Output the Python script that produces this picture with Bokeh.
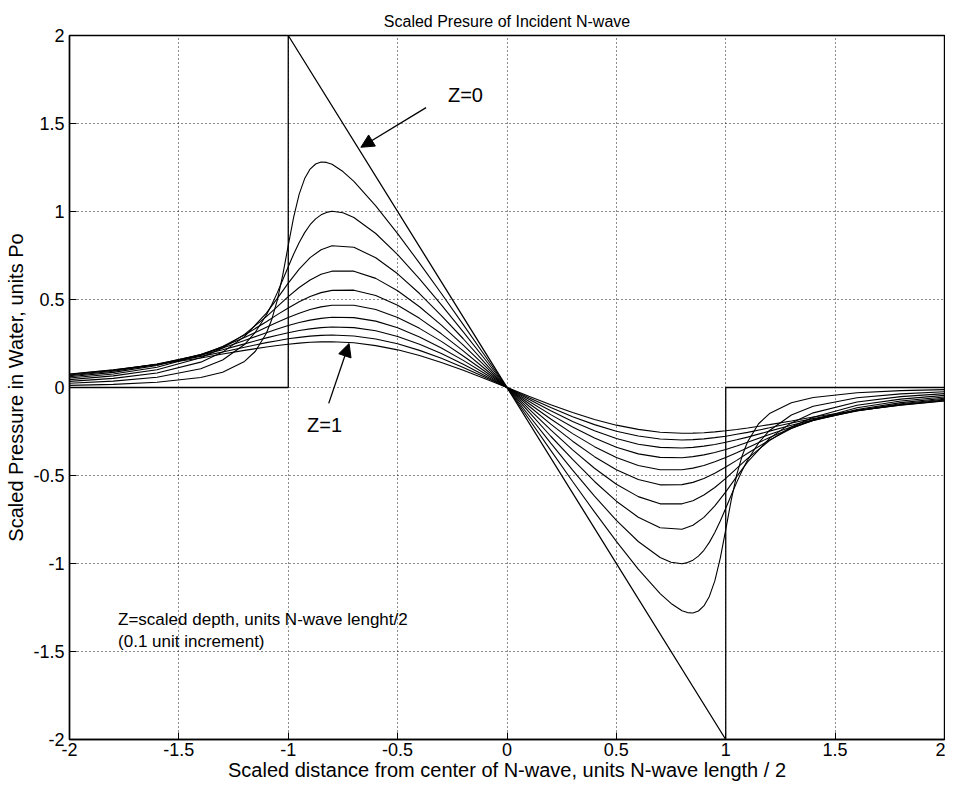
from bokeh.plotting import figure
from bokeh.models import (Range1d, FixedTicker, Label, Arrow, NormalHead,
                          CustomJSTickFormatter)
from bokeh.embed import file_html
from bokeh.resources import INLINE

# ---------------- data ----------------
# sample positions for the deeper curves (Z = 0.3 ... 1.0)
x_vals = [-2.0, -1.8, -1.6, -1.4, -1.3, -1.2, -1.1, -1.05, -1.0, -0.95, -0.9,
          -0.85, -0.8, -0.7, -0.6, -0.5, -0.4, -0.3, -0.2, -0.1, 0.0,
          0.1, 0.2, 0.3, 0.4, 0.5, 0.6, 0.7, 0.8, 0.85, 0.9, 0.95, 1.0,
          1.05, 1.1, 1.2, 1.3, 1.4, 1.6, 1.8, 2.0]

# denser sample positions for the two shallow, sharper curves (Z = 0.1, 0.2)
x_fine = [-2.0, -1.8, -1.6, -1.4, -1.3, -1.2, -1.15, -1.1, -1.075, -1.05, -1.025,
          -1.0, -0.975, -0.95, -0.925, -0.9, -0.875, -0.85, -0.825, -0.8, -0.75,
          -0.7, -0.6, -0.5, -0.4, -0.3, -0.2, -0.1, 0.0,
          0.1, 0.2, 0.3, 0.4, 0.5, 0.6, 0.7, 0.75, 0.8, 0.825, 0.85, 0.875,
          0.9, 0.925, 0.95, 0.975, 1.0, 1.025, 1.05, 1.075, 1.1, 1.15,
          1.2, 1.3, 1.4, 1.6, 1.8, 2.0]

# incident N-wave at the surface (Z=0)
nwave_x = [-2.0, -1.0, -1.0, 1.0, 1.0, 2.0]
nwave_y = [0.0, 0.0, 2.0, -2.0, 0.0, 0.0]

# pressure at scaled depths Z = 0.1 ... 1.0
p_z01 = [0.012, 0.018, 0.030, 0.057, 0.087, 0.148, 0.206, 0.308, 0.388, 0.497, 0.640,
         0.807, 0.969, 1.099, 1.187, 1.241, 1.270, 1.281, 1.279, 1.268, 1.227,
         1.171, 1.032, 0.874, 0.707, 0.534, 0.357, 0.179, 0.0,
         -0.179, -0.357, -0.534, -0.707, -0.874, -1.032, -1.171, -1.227, -1.268, -1.279, -1.281, -1.270,
         -1.241, -1.187, -1.099, -0.969, -0.807, -0.640, -0.497, -0.388, -0.308, -0.206,
         -0.148, -0.087, -0.057, -0.030, -0.018, -0.012]
p_z02 = [0.024, 0.036, 0.058, 0.107, 0.156, 0.244, 0.315, 0.412, 0.472, 0.539, 0.612,
         0.686, 0.759, 0.824, 0.880, 0.925, 0.958, 0.981, 0.995, 1.001, 0.993,
         0.966, 0.875, 0.755, 0.617, 0.469, 0.316, 0.159, 0.0,
         -0.159, -0.316, -0.469, -0.617, -0.755, -0.875, -0.966, -0.993, -1.001, -0.995, -0.981, -0.958,
         -0.925, -0.880, -0.824, -0.759, -0.686, -0.612, -0.539, -0.472, -0.412, -0.315,
         -0.244, -0.156, -0.107, -0.058, -0.036, -0.024]
p_z03 = [0.035, 0.052, 0.082, 0.144, 0.201, 0.289, 0.423, 0.506, 0.593, 0.673, 0.738,
         0.783, 0.805, 0.797, 0.737, 0.646, 0.534, 0.409, 0.277, 0.139, 0.0,
         -0.139, -0.277, -0.409, -0.534, -0.646, -0.737, -0.797, -0.805, -0.783, -0.738, -0.673, -0.593,
         -0.506, -0.423, -0.289, -0.201, -0.144, -0.082, -0.052, -0.035]
p_z04 = [0.045, 0.066, 0.101, 0.169, 0.224, 0.302, 0.403, 0.460, 0.516, 0.568, 0.611,
         0.643, 0.661, 0.661, 0.620, 0.550, 0.459, 0.354, 0.241, 0.122, 0.0,
         -0.122, -0.241, -0.354, -0.459, -0.550, -0.620, -0.661, -0.661, -0.643, -0.611, -0.568, -0.516,
         -0.460, -0.403, -0.302, -0.224, -0.169, -0.101, -0.066, -0.045]
p_z05 = [0.054, 0.077, 0.115, 0.183, 0.233, 0.298, 0.374, 0.414, 0.452, 0.487, 0.517,
         0.539, 0.552, 0.553, 0.523, 0.467, 0.393, 0.305, 0.208, 0.105, 0.0,
         -0.105, -0.208, -0.305, -0.393, -0.467, -0.523, -0.553, -0.552, -0.539, -0.517, -0.487, -0.452,
         -0.414, -0.374, -0.298, -0.233, -0.183, -0.115, -0.077, -0.054]
p_z06 = [0.061, 0.086, 0.125, 0.188, 0.232, 0.284, 0.342, 0.371, 0.398, 0.422, 0.443,
         0.458, 0.467, 0.467, 0.443, 0.398, 0.336, 0.262, 0.179, 0.091, 0.0,
         -0.091, -0.179, -0.262, -0.336, -0.398, -0.443, -0.467, -0.467, -0.458, -0.443, -0.422, -0.398,
         -0.371, -0.342, -0.284, -0.232, -0.188, -0.125, -0.086, -0.061]
p_z07 = [0.067, 0.092, 0.130, 0.188, 0.225, 0.267, 0.311, 0.332, 0.352, 0.369, 0.383,
         0.393, 0.399, 0.397, 0.377, 0.339, 0.287, 0.225, 0.154, 0.078, 0.0,
         -0.078, -0.154, -0.225, -0.287, -0.339, -0.377, -0.397, -0.399, -0.393, -0.383, -0.369, -0.352,
         -0.332, -0.311, -0.267, -0.225, -0.188, -0.130, -0.092, -0.067]
p_z08 = [0.071, 0.097, 0.133, 0.184, 0.215, 0.248, 0.282, 0.297, 0.311, 0.324, 0.333,
         0.340, 0.344, 0.340, 0.322, 0.290, 0.246, 0.193, 0.132, 0.067, 0.0,
         -0.067, -0.132, -0.193, -0.246, -0.290, -0.322, -0.340, -0.344, -0.340, -0.333, -0.324, -0.311,
         -0.297, -0.282, -0.248, -0.215, -0.184, -0.133, -0.097, -0.071]
p_z09 = [0.075, 0.099, 0.132, 0.177, 0.202, 0.229, 0.255, 0.266, 0.277, 0.285, 0.292,
         0.296, 0.298, 0.293, 0.276, 0.249, 0.211, 0.166, 0.114, 0.058, 0.0,
         -0.058, -0.114, -0.166, -0.211, -0.249, -0.276, -0.293, -0.298, -0.296, -0.292, -0.285, -0.277,
         -0.266, -0.255, -0.229, -0.202, -0.177, -0.132, -0.099, -0.075]
p_z10 = [0.077, 0.100, 0.131, 0.168, 0.190, 0.211, 0.230, 0.239, 0.246, 0.252, 0.257,
         0.259, 0.260, 0.254, 0.238, 0.214, 0.182, 0.142, 0.098, 0.050, 0.0,
         -0.050, -0.098, -0.142, -0.182, -0.214, -0.238, -0.254, -0.260, -0.259, -0.257, -0.252, -0.246,
         -0.239, -0.230, -0.211, -0.190, -0.168, -0.131, -0.100, -0.077]

shallow_curves = [p_z01, p_z02]
deep_curves = [p_z03, p_z04, p_z05, p_z06, p_z07, p_z08, p_z09, p_z10]

x_ticks = [-2, -1.5, -1, -0.5, 0, 0.5, 1, 1.5, 2]
y_ticks = [-2, -1.5, -1, -0.5, 0, 0.5, 1, 1.5, 2]

title_text = "Scaled Presure of Incident N-wave"
x_label = "Scaled distance from center of N-wave, units N-wave length / 2"
y_label = "Scaled Pressure in Water, units Po"
note_1 = "Z=scaled depth, units N-wave lenght/2"
note_2 = "(0.1 unit increment)"

# ---------------- figure ----------------
FONT = "Liberation Sans"

p = figure(width=945, height=783, output_backend="svg", toolbar_location=None,
           x_range=Range1d(-2, 2), y_range=Range1d(-2, 2),
           min_border_left=69, min_border_right=1, min_border_top=35,
           min_border_bottom=40)
p.background_fill_color = "white"
p.border_fill_color = "white"
p.outline_line_color = "black"
p.outline_line_width = 1.4
p.outline_line_alpha = 1.0

p.title.text = title_text
p.title.align = "center"
p.title.text_font = FONT
p.title.text_font_size = "16px"
p.title.text_font_style = "normal"
p.title.text_color = "black"
p.title.standoff = 12

fmt = CustomJSTickFormatter(code="return tick.toString();")

for ax, ticks in ((p.xaxis[0], x_ticks), (p.yaxis[0], y_ticks)):
    ax.ticker = FixedTicker(ticks=ticks)
    ax.formatter = fmt
    ax.minor_tick_line_color = None
    ax.major_tick_in = 7
    ax.major_tick_out = 0
    ax.major_tick_line_color = "black"
    ax.axis_line_color = "black"
    ax.axis_line_width = 1.4
    ax.major_label_text_font = FONT
    ax.major_label_text_font_size = "18px"
    ax.major_label_text_color = "black"
    ax.axis_label_text_font = FONT
    ax.axis_label_text_font_style = "normal"
    ax.axis_label_text_color = "black"

p.xaxis.axis_label = x_label
p.yaxis.axis_label = y_label
p.xaxis.axis_label_text_font_size = "20px"
p.yaxis.axis_label_text_font_size = "20px"
p.xaxis.major_label_standoff = 3
p.xaxis.axis_label_standoff = 0
p.yaxis.major_label_standoff = 5
p.yaxis.axis_label_standoff = 3

for g, ticks in ((p.xgrid[0], x_ticks), (p.ygrid[0], y_ticks)):
    g.ticker = FixedTicker(ticks=ticks)
    g.grid_line_color = "black"
    g.grid_line_dash = "1 3"
    g.grid_line_width = 1
    g.grid_line_alpha = 0.9

# curves
p.line(nwave_x, nwave_y, line_color="black", line_width=1.3)
for ys in shallow_curves:
    p.line(x_fine, ys, line_color="black", line_width=1.1)
for ys in deep_curves:
    p.line(x_vals, ys, line_color="black", line_width=1.1)

# annotations
p.add_layout(Label(x=-0.19, y=1.66, text="Z=0", text_align="center",
                   text_baseline="middle", text_font=FONT, text_font_size="20px",
                   text_color="black"))
p.add_layout(Arrow(end=NormalHead(size=13, fill_color="black", line_color="black"),
                   x_start=-0.37, y_start=1.59, x_end=-0.668, y_end=1.365,
                   line_color="black", line_width=1.3))
p.add_layout(Label(x=-0.834, y=-0.215, text="Z=1", text_align="center",
                   text_baseline="middle", text_font=FONT, text_font_size="20px",
                   text_color="black"))
p.add_layout(Arrow(end=NormalHead(size=13, fill_color="black", line_color="black"),
                   x_start=-0.815, y_start=-0.09, x_end=-0.722, y_end=0.25,
                   line_color="black", line_width=1.3))
p.add_layout(Label(x=-1.778, y=-1.32, text=note_1, text_align="left",
                   text_baseline="middle", text_font=FONT, text_font_size="17px",
                   text_color="black"))
p.add_layout(Label(x=-1.778, y=-1.445, text=note_2, text_align="left",
                   text_baseline="middle", text_font=FONT, text_font_size="17px",
                   text_color="black"))

open("out.html", "w").write(file_html(p, INLINE))
